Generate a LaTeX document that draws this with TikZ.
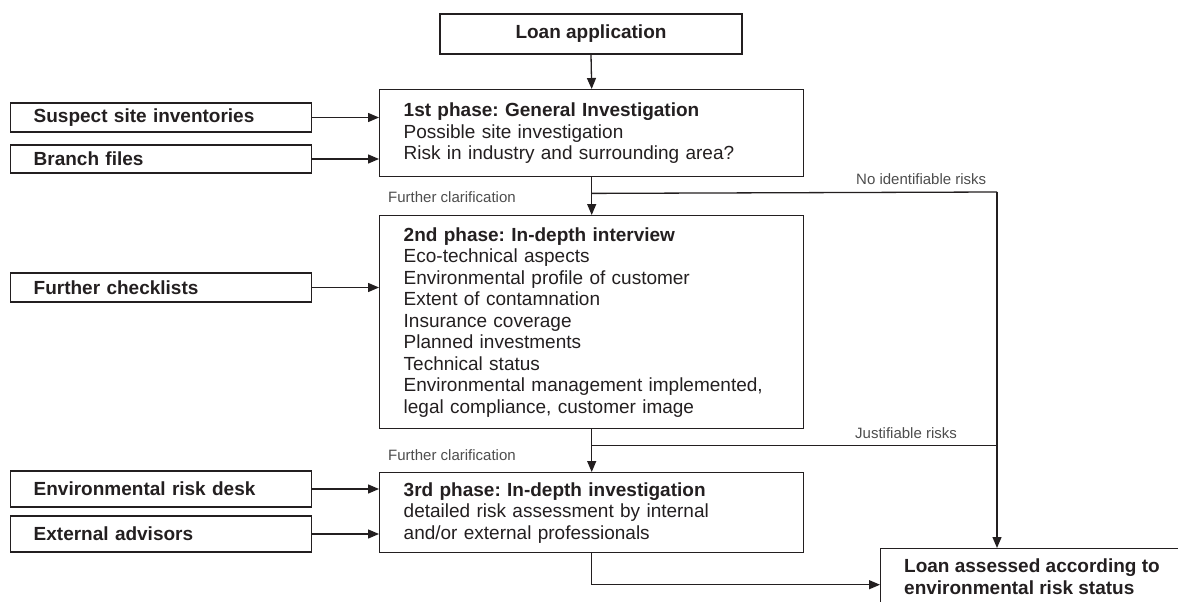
\documentclass[tikz,border=0pt]{standalone}
\usepackage{fontspec}
\setmainfont{Liberation Sans}
\usetikzlibrary{arrows.meta,calc}
\definecolor{ink}{HTML}{231F20}
\definecolor{lbl}{HTML}{4D4D4D}
\frenchspacing
\begin{document}
\begin{tikzpicture}[x=1pt,y=-1pt,
  every node/.style={font=\fontsize{19}{21.5}\selectfont\frenchspacing, text=ink},
  box/.style={draw=ink, line width=1.4pt, rectangle, inner ysep=0pt},
  srcbox/.style={box, minimum width=301pt, text width=255pt, inner xsep=23pt, align=left, font=\fontsize{19}{21.5}\selectfont\bfseries, anchor=west},
  phase/.style={box, anchor=north west, minimum width=424pt, text width=376pt, inner xsep=24pt, align=left},
  conn/.style={draw=ink, line width=1.3pt},
  arr/.style={conn, -{Triangle[length=11pt,width=9pt]}},
  lab/.style={font=\fontsize{15}{17}\selectfont, text=lbl, inner sep=0pt, anchor=west}
]
\useasboundingbox (0,0) rectangle (1178,602);
\clip (0,0) rectangle (1178,602);

% top
\node[box, minimum width=302pt, minimum height=40pt, font=\fontsize{19}{21.5}\selectfont\bfseries] (loan) at (591,34) {Loan application};

% phases
\node[phase, minimum height=87pt] (p1) at (379,89) {\textbf{1st phase: General Investigation}\\Possible site investigation\\Risk in industry and surrounding area?};
\node[phase, minimum height=213pt] (p2) at (379,215) {\textbf{2nd phase: In-depth interview}\\Eco-technical aspects\\Environmental profile of customer\\Extent of contamnation\\Insurance coverage\\Planned investments\\Technical status\\Environmental management implemented,\\legal compliance, customer image};
\node[phase, minimum height=80pt] (p3) at (379,472) {\textbf{3rd phase: In-depth investigation}\\detailed risk assessment by internal\\and/or external professionals};

% sources
\node[srcbox, minimum height=29pt] (sus) at (10,117.5) {Suspect site inventories};
\node[srcbox, minimum height=28pt] (brf) at (10,159) {Branch files};
\node[srcbox, minimum height=29pt] (fcl) at (10,287.5) {Further checklists};
\node[srcbox, minimum height=36pt] (erd) at (10,489) {Environmental risk desk};
\node[srcbox, minimum height=36pt] (ext) at (10,534) {External advisors};

% final
\node[box, anchor=north west, minimum width=330pt, minimum height=72pt] (final) at (880,548) {};
\node[anchor=north west, inner sep=0pt, align=left, font=\fontsize{19}{21.5}\selectfont\bfseries] (finaltxt) at (904,559) {Loan assessed according to\\environmental risk status};

% labels
\node[lab] (nir) at (856,179) {No identifiable risks};
\node[lab] (jr) at (855,433) {Justifiable risks};
\node[lab] (fc1) at (388,197) {Further clarification};
\node[lab] (fc2) at (388,455) {Further clarification};

% connectors
\draw[arr] (loan.south) -- (p1.north);
\draw[arr] (p1.south) -- (p2.north);
\draw[arr] (p2.south) -- (p3.north);
\coordinate (j1) at ($(p1.south)+(0,16)$);
\coordinate (r1) at (997,192);
\coordinate (j2) at ($(p2.south)+(0,16)$);
\draw[conn] (j1) -- (r1);
\draw[arr] (r1) -- (r1 |- final.north);
\draw[conn] (j2) -- (j2 -| r1);
\draw[arr] (p3.south) |- (final.west);

\draw[arr] (sus.east) -- (sus.east -| p1.west);
\draw[arr] (brf.east) -- (brf.east -| p1.west);
\draw[arr] (fcl.east) -- (fcl.east -| p2.west);
\draw[arr] (erd.east) -- (erd.east -| p3.west);
\draw[arr] (ext.east) -- (ext.east -| p3.west);
\end{tikzpicture}
\end{document}
